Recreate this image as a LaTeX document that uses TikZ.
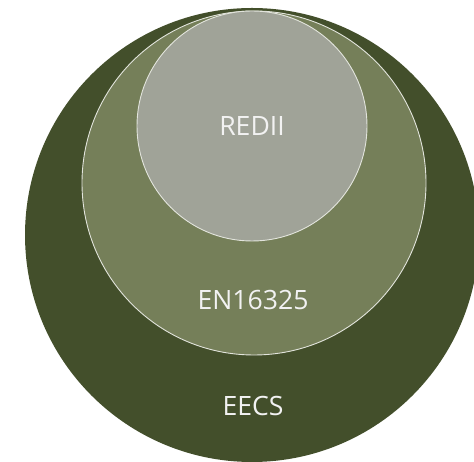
\documentclass[tikz,border=0pt]{standalone}
\usepackage{fontspec}
\setmainfont{Open Sans}
\usepackage{xcolor}

\definecolor{eecsgreen}{HTML}{434F2B}
\definecolor{engreen}{HTML}{757F59}
\definecolor{rediigrey}{HTML}{A0A398}
\definecolor{ringline}{HTML}{E2E4DC}

\begin{document}
\begin{tikzpicture}[x=1pt, y=1pt,
    ring/.style={circle, inner sep=0pt, draw=ringline, line width=0.9pt},
    ringlabel/.style={text=white!95!black, inner sep=0pt, font=\fontsize{26.6}{32}\selectfont}]
\useasboundingbox (0,0) rectangle (474,462);

\node [ring, draw=none, fill=eecsgreen, minimum size=454pt] (eecs) at (252,227) {};
\node [ring, fill=engreen, minimum size=344pt] (en) at (254,279) {};
\node [ring, fill=rediigrey, minimum size=230pt] (redii) at (252,336) {};

\node [ringlabel] (eecslabel) at (253,56) {EECS};
\node [ringlabel] (enlabel) at (253,162) {EN16325};
\node [ringlabel] (rediilabel) at (redii.center) {REDII};
\end{tikzpicture}
\end{document}
